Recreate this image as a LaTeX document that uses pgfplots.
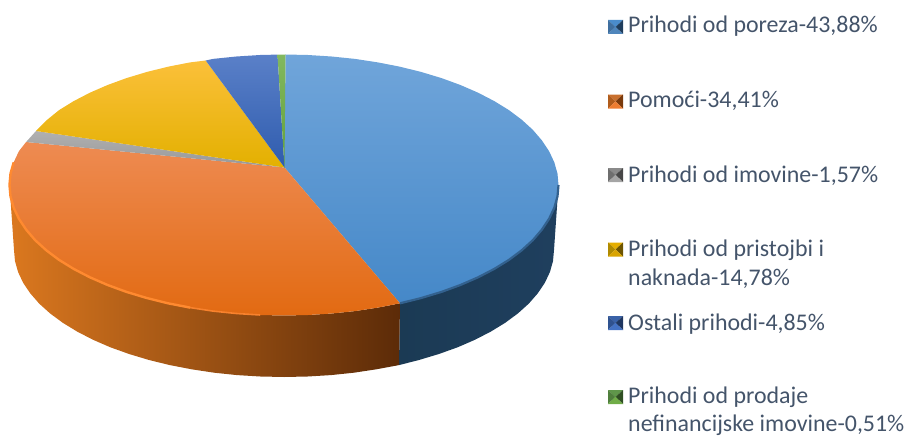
\documentclass[border=0pt]{standalone}
\usepackage{fontspec}
\setmainfont{Carlito}
\usepackage{pgfplots}
\pgfplotsset{compat=1.18}

\definecolor{legendtext}{HTML}{44546A}

% side wall colours
\definecolor{wallbL}{HTML}{1B3A54}\definecolor{wallbR}{HTML}{1F3F5E}
\definecolor{walloL}{HTML}{DB781F}\definecolor{walloM}{HTML}{A35210}\definecolor{walloR}{HTML}{5C2B08}
% top face colours, top to bottom
\definecolor{bluT}{HTML}{70A5DA}\definecolor{bluM}{HTML}{5B9BD5}\definecolor{bluB}{HTML}{4588C8}
\definecolor{oraT}{HTML}{EE8B52}\definecolor{oraM}{HTML}{F0782A}\definecolor{oraB}{HTML}{E26A12}
\definecolor{graT}{HTML}{B0B0B0}\definecolor{graB}{HTML}{989898}
\definecolor{yelT}{HTML}{FBC03A}\definecolor{yelM}{HTML}{FDC300}\definecolor{yelB}{HTML}{E3B000}
\definecolor{navT}{HTML}{5A80C8}\definecolor{navM}{HTML}{4470C4}\definecolor{navB}{HTML}{2F5CAE}
\definecolor{greT}{HTML}{82B860}\definecolor{greB}{HTML}{62A03A}
\definecolor{rimO}{HTML}{FF8A30}\definecolor{rimB}{HTML}{33618E}

% legend keys: bevelled square, four faces
\newcommand\defkey[5]{%
  \pgfdeclareplotmark{#1}{%
    \pgfsetfillcolor{#2}\pgfpathmoveto{\pgfpoint{-7.5bp}{7bp}}\pgfpathlineto{\pgfpoint{7.5bp}{7bp}}\pgfpathlineto{\pgfpoint{0bp}{0bp}}\pgfpathclose\pgfusepath{fill}%
    \pgfsetfillcolor{#3}\pgfpathmoveto{\pgfpoint{-7.5bp}{7bp}}\pgfpathlineto{\pgfpoint{-7.5bp}{-7bp}}\pgfpathlineto{\pgfpoint{0bp}{0bp}}\pgfpathclose\pgfusepath{fill}%
    \pgfsetfillcolor{#4}\pgfpathmoveto{\pgfpoint{7.5bp}{7bp}}\pgfpathlineto{\pgfpoint{7.5bp}{-7bp}}\pgfpathlineto{\pgfpoint{0bp}{0bp}}\pgfpathclose\pgfusepath{fill}%
    \pgfsetfillcolor{#5}\pgfpathmoveto{\pgfpoint{-7.5bp}{-7bp}}\pgfpathlineto{\pgfpoint{7.5bp}{-7bp}}\pgfpathlineto{\pgfpoint{0bp}{0bp}}\pgfpathclose\pgfusepath{fill}%
  }}
\definecolor{kbA}{HTML}{4A8CCB}\definecolor{kbB}{HTML}{3F6F9F}\definecolor{kbC}{HTML}{1F3D5C}\definecolor{kbD}{HTML}{4F86BC}
\definecolor{koA}{HTML}{C9702E}\definecolor{koB}{HTML}{B05C1C}\definecolor{koC}{HTML}{7A3A0C}\definecolor{koD}{HTML}{ED7D31}
\definecolor{kgA}{HTML}{8A8A8A}\definecolor{kgB}{HTML}{6E6E6E}\definecolor{kgC}{HTML}{474747}\definecolor{kgD}{HTML}{A5A5A5}
\definecolor{kyA}{HTML}{E5AE00}\definecolor{kyB}{HTML}{B08A00}\definecolor{kyC}{HTML}{6E5500}\definecolor{kyD}{HTML}{D9A400}
\definecolor{knA}{HTML}{3A62A8}\definecolor{knB}{HTML}{2F5290}\definecolor{knC}{HTML}{1E3660}\definecolor{knD}{HTML}{4472C4}
\definecolor{klA}{HTML}{5F964A}\definecolor{klB}{HTML}{4F7F3C}\definecolor{klC}{HTML}{2F4F22}\definecolor{klD}{HTML}{70AD47}
\defkey{keyblue}{kbA}{kbB}{kbC}{kbD}
\defkey{keyorange}{koA}{koB}{koC}{koD}
\defkey{keygray}{kgA}{kgB}{kgC}{kgD}
\defkey{keyyellow}{kyA}{kyB}{kyC}{kyD}
\defkey{keynavy}{knA}{knB}{knC}{knD}
\defkey{keygreen}{klA}{klB}{klC}{klD}

\newcommand\legtext[3]{\node[anchor=base west,inner sep=0pt,text=legendtext,font=\fontsize{24}{28}\selectfont] at (axis cs:#1,#2) {#3};}

\begin{document}
\begin{tikzpicture}
\path[use as bounding box] (0,0) rectangle (907bp,437bp);
\begin{axis}[
    at={(0,0)}, anchor=south west,
    scale only axis, width=907bp, height=437bp,
    xmin=0, xmax=907, ymin=0, ymax=437, y dir=reverse,
    hide axis, clip=false,
]

% side wall, blue
\addplot[draw=none, left color=wallbL, right color=wallbR] coordinates {
  (400,303.3)(421.3,298)(441.5,291.9)(460.4,285)(478.1,277.3)(494.3,268.9)(508.9,259.9)(521.7,250.3)(532.8,240.2)(541.9,229.6)(549.1,218.8)(554.3,207.7)(557.5,196.4)(558.5,185)
  (554,250)(553,261.1)(549.9,272.1)(544.8,282.9)(537.7,293.4)(528.7,303.7)(517.8,313.5)(505.2,322.8)(490.8,331.6)(474.9,339.8)(457.6,347.3)(438.9,354)(419,360)(399,365.1)(400,303.3)
};
% side wall, orange
\addplot[draw=none, left color=walloL, middle color=walloM, right color=walloR] coordinates {
  (400,303.3)(377.9,307.6)(355,311.1)(331.7,313.5)(307.9,315)(284,315.5)(260.1,315)(236.3,313.5)(213,311.1)(190.1,307.6)(168,303.3)(146.7,298)(126.5,291.9)(107.6,285)(89.9,277.3)(73.7,268.9)(59.1,259.9)(46.3,250.3)(35.2,240.2)(26.1,229.6)(18.9,218.8)(13.7,207.7)(10.5,196.4)(9.5,185)
  (14,250)(15,261.1)(18.1,272.1)(23.2,282.9)(30.3,293.4)(39.3,303.7)(50.2,313.5)(62.8,322.8)(77.2,331.6)(93.1,339.8)(110.4,347.3)(129.1,354)(149,360)(169.9,365.1)(191.7,369.3)(214.1,372.7)(237.1,375.1)(260.5,376.5)(284,377)(307.5,376.5)(330.9,375.1)(353.9,372.7)(376.3,369.3)(399,365.1)(400,303.3)
};

% top face, blue
\addplot[draw=none, top color=bluT, middle color=bluM, bottom color=bluB] coordinates {
  (284.5,167.5)(285.5,54.5)(307.9,55)(331.7,56.5)(355,58.9)(377.9,62.4)(400,66.7)(421.3,72)(441.5,78.1)(460.4,85)(478.1,92.7)(494.3,101.1)(508.9,110.1)(521.7,119.7)(532.8,129.8)(541.9,140.4)(549.1,151.2)(554.3,162.3)(557.5,173.6)(558.5,185)(557.5,196.4)(554.3,207.7)(549.1,218.8)(541.9,229.6)(532.8,240.2)(521.7,250.3)(508.9,259.9)(494.3,268.9)(478.1,277.3)(460.4,285)(441.5,291.9)(421.3,298)(400,303.3)(284.5,167.5)
};
% top face, orange
\addplot[draw=none, top color=oraT, middle color=oraM, bottom color=oraB] coordinates {
  (284.5,167.5)(400,303.3)(377.9,307.6)(355,311.1)(331.7,313.5)(307.9,315)(284,315.5)(260.1,315)(236.3,313.5)(213,311.1)(190.1,307.6)(168,303.3)(146.7,298)(126.5,291.9)(107.6,285)(89.9,277.3)(73.7,268.9)(59.1,259.9)(46.3,250.3)(35.2,240.2)(26.1,229.6)(18.9,218.8)(13.7,207.7)(10.5,196.4)(9.5,185)(10.5,173.6)(13.7,162.3)(18.9,151.2)(26.1,142)(284.5,167.5)
};
% top face, gray
\addplot[draw=none, top color=graT, bottom color=graB] coordinates {
  (284.5,167.5)(26.1,142)(36,131)(284.5,167.5)
};
% top face, yellow
\addplot[draw=none, top color=yelT, middle color=yelM, bottom color=yelB] coordinates {
  (284.5,167.5)(36,131)(46.3,120.5)(59.1,110.1)(73.7,101.1)(89.9,92.7)(107.6,85)(126.5,78.1)(146.7,72)(168,66.7)(190.1,62.4)(205.7,60.5)(284.5,167.5)
};
% top face, navy
\addplot[draw=none, top color=navT, middle color=navM, bottom color=navB] coordinates {
  (284.5,167.5)(205.7,60.5)(213,58.9)(236.3,56.5)(260.1,55)(277.5,54.6)(284.5,167.5)
};
% top face, green
\addplot[draw=none, top color=greT, bottom color=greB] coordinates {
  (284.5,167.5)(277.5,54.6)(285.5,54.5)(284.5,167.5)
};

% rim highlights
\addplot[rimO!55!oraM, line width=1.6pt] coordinates {
  (260.1,315)(236.3,313.5)(213,311.1)(190.1,307.6)
};
\addplot[rimO, line width=2.4pt, line join=round] coordinates {
  (190.1,307.6)(168,303.3)(146.7,298)(126.5,291.9)(107.6,285)(89.9,277.3)(73.7,268.9)(59.1,259.9)(46.3,250.3)(35.2,240.2)(26.1,229.6)(18.9,218.8)(13.7,207.7)(10.5,196.4)(9.5,185)(10.5,173.6)(13.7,162.3)
};
\addplot[rimB, line width=2.2pt, line join=round] coordinates {
  (400,303.3)(421.3,298)(441.5,291.9)(460.4,285)(478.1,277.3)(494.3,268.9)(508.9,259.9)(521.7,250.3)(532.8,240.2)(541.9,229.6)(549.1,218.8)(554.3,207.7)(557.5,196.4)(558.5,185)
};

% legend keys
\addplot[only marks, mark=keyblue] coordinates {(615.5,27)};
\addplot[only marks, mark=keyorange] coordinates {(615.5,101.5)};
\addplot[only marks, mark=keygray] coordinates {(615.5,175)};
\addplot[only marks, mark=keyyellow] coordinates {(615.5,249.5)};
\addplot[only marks, mark=keynavy] coordinates {(615.5,323)};
\addplot[only marks, mark=keygreen] coordinates {(615.5,397)};

% legend text
\legtext{628}{33}{Prihodi od poreza-43,88\%}
\legtext{628}{107}{Pomoći-34,41\%}
\legtext{628}{182}{Prihodi od imovine-1,57\%}
\legtext{628}{256}{Prihodi od pristojbi i}
\legtext{628}{285}{naknada-14,78\%}
\legtext{628}{330}{Ostali prihodi-4,85\%}
\legtext{628}{403}{Prihodi od prodaje}
\legtext{628}{431}{nefinancijske imovine-0,51\%}
\end{axis}
\end{tikzpicture}
\end{document}
